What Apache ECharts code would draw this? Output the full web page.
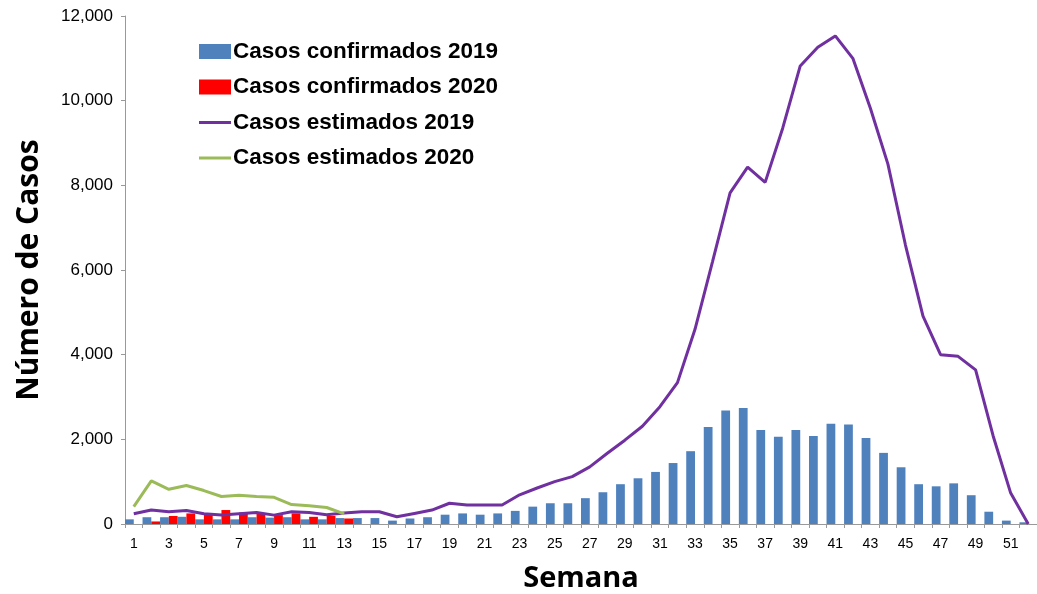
<!DOCTYPE html>
<html>
<head>
<meta charset="utf-8">
<script src="https://cdn.jsdelivr.net/npm/echarts@6/dist/echarts.min.js"></script>
<style>html,body{margin:0;padding:0;background:#fff}#c{width:1037px;height:594px}</style>
</head>
<body>
<div id="c"></div>
<script>
const weeks = Array.from({length: 52}, (_, i) => String(i + 1));
const confirmados2019 = [110,160,160,170,110,110,110,160,150,160,110,110,140,140,140,80,130,160,220,250,220,250,310,410,490,490,610,750,940,1080,1230,1440,1720,2290,2680,2740,2220,2060,2220,2080,2370,2350,2030,1680,1340,940,890,960,680,290,80,40];
const confirmados2020 = [null,60,190,250,230,330,270,250,210,250,170,190,130];
const estimados2019 = [240,330,290,320,240,210,240,270,210,290,270,220,260,290,290,170,250,330,490,450,450,450,690,850,1000,1120,1350,1670,1980,2310,2770,3340,4600,6200,7820,8430,8070,9350,10820,11260,11530,11000,9820,8500,6590,4910,4000,3960,3640,2080,730,0];
const estimados2020 = [410,1020,820,910,790,650,680,650,630,460,430,390,240];
const yTicks = [0,2000,4000,6000,8000,10000,12000];
const legendNames = ['Casos confirmados 2019','Casos confirmados 2020','Casos estimados 2019','Casos estimados 2020'];

const chart = echarts.init(document.getElementById('c'), null, {renderer: 'canvas'});
const fmt = v => v.toLocaleString('en-US');
const lineIcon = 'path://M0,0H32V3H0Z';
chart.setOption({
  animation: false,
  backgroundColor: '#fff',
  grid: {left: 125, right: 0, top: 16, bottom: 70, outerBoundsMode: 'none', containLabel: false},
  legend: {
    orient: 'vertical', left: 194, top: 35, itemGap: 12.5,
    itemWidth: 32, itemHeight: 15,
    textStyle: {fontFamily: 'Liberation Sans, Arial', fontWeight: 'bold', fontSize: 22.5, color: '#000', padding: [0,0,0,-3]},
    data: [
      {name: legendNames[0], icon: 'rect'},
      {name: legendNames[1], icon: 'rect'},
      {name: legendNames[2], icon: lineIcon},
      {name: legendNames[3], icon: lineIcon}
    ]
  },
  xAxis: {
    type: 'category', data: weeks,
    name: 'Semana', nameLocation: 'middle', nameGap: 40,
    nameTextStyle: {fontFamily: 'Open Sans', fontWeight: 'bold', fontSize: 29, color: '#000'},
    axisLine: {lineStyle: {color: '#999', width: 1}},
    axisTick: {show: true, interval: 0, alignWithLabel: false, length: 4, lineStyle: {color: '#999'}},
    axisLabel: {interval: 1, color: '#000', fontFamily: 'Liberation Sans, Arial', fontSize: 14, margin: 13}
  },
  yAxis: {
    type: 'value', min: 0, max: 12000, interval: 2000,
    name: 'Número de Casos', nameLocation: 'middle', nameGap: 81, nameRotate: 90,
    nameTextStyle: {fontFamily: 'Open Sans', fontWeight: 'bold', fontSize: 30, color: '#000'},
    axisLine: {show: true, lineStyle: {color: '#999', width: 1}},
    axisTick: {show: true, length: 4, lineStyle: {color: '#999'}},
    splitLine: {show: false},
    axisLabel: {color: '#000', fontFamily: 'Liberation Sans, Arial', fontSize: 17, margin: 12,
      formatter: v => yTicks.includes(v) ? fmt(v) : ''}
  },
  series: [
    {name: legendNames[0], type: 'bar', data: confirmados2019, itemStyle: {color: '#4F81BD'},
     barGap: '0%', barCategoryGap: '0%'},
    {name: legendNames[1], type: 'bar', data: confirmados2020, itemStyle: {color: '#FF0000'},
     barGap: '0%', barCategoryGap: '0%'},
    {name: legendNames[2], type: 'line', data: estimados2019, symbol: 'none',
     lineStyle: {color: '#7030A0', width: 3}, itemStyle: {color: '#7030A0'}},
    {name: legendNames[3], type: 'line', data: estimados2020, symbol: 'none',
     lineStyle: {color: '#9BBB59', width: 3}, itemStyle: {color: '#9BBB59'}}
  ]
});
</script>
</body>
</html>
